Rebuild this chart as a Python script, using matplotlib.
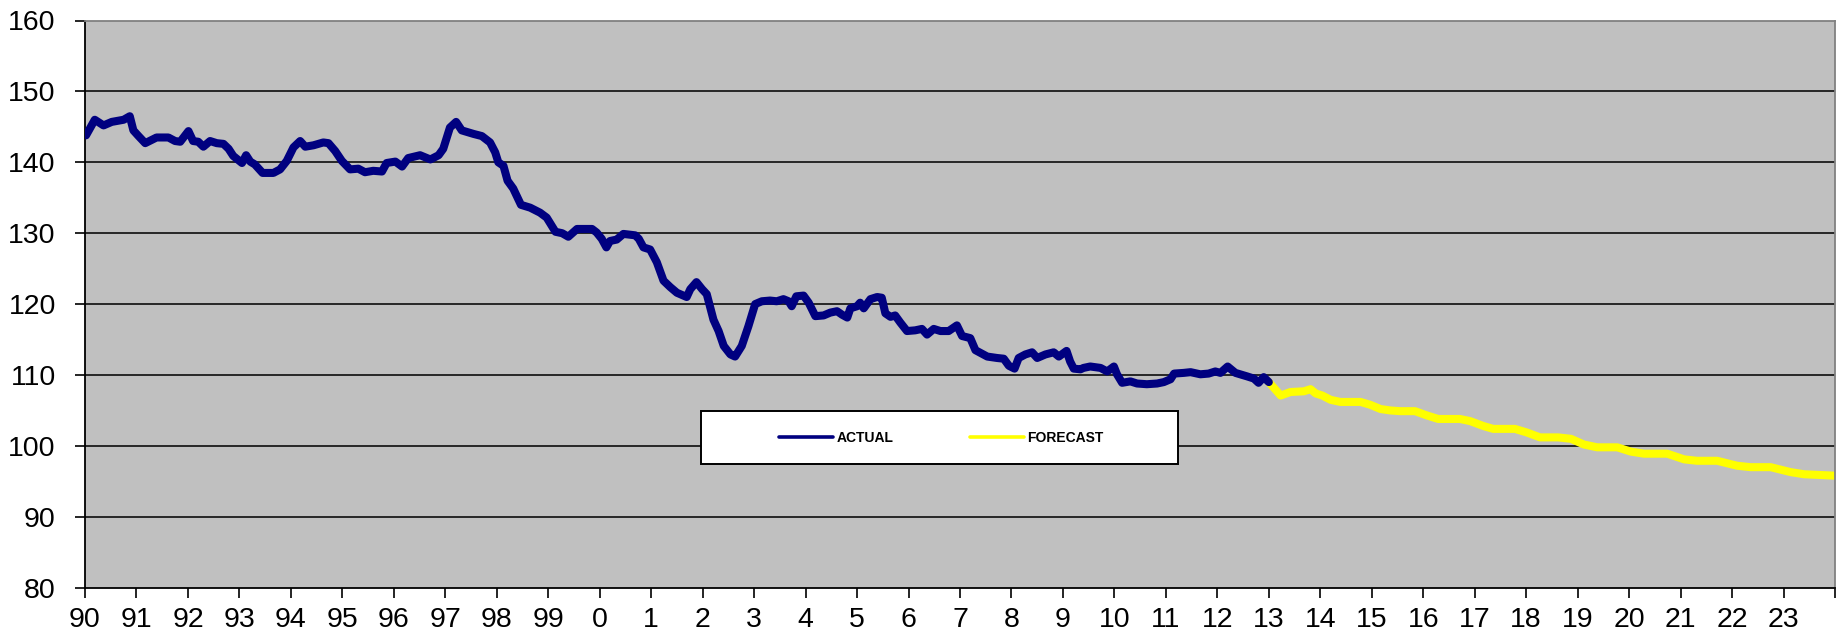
import matplotlib
matplotlib.use("Agg")
import matplotlib.pyplot as plt
from matplotlib.patches import Rectangle

plt.rcParams['font.family'] = ['Liberation Sans', 'DejaVu Sans']

# ---- data ----
actual_x = [1990.02, 1990.19, 1990.36, 1990.52, 1990.75, 1990.87, 1990.94, 1991.04, 1991.17, 1991.39,
            1991.62, 1991.75, 1991.85, 1992.01, 1992.10, 1992.20, 1992.30, 1992.43, 1992.56, 1992.69,
            1992.79, 1992.88, 1993.05, 1993.13, 1993.21, 1993.30, 1993.45, 1993.66, 1993.79, 1993.92,
            1994.05, 1994.18, 1994.28, 1994.44, 1994.63, 1994.73, 1994.86, 1994.99, 1995.15, 1995.31,
            1995.44, 1995.60, 1995.77, 1995.86, 1996.03, 1996.16, 1996.28, 1996.51, 1996.71, 1996.87,
            1996.96, 1997.09, 1997.21, 1997.32, 1997.55, 1997.71, 1997.87, 1997.97, 1998.03, 1998.13,
            1998.21, 1998.32, 1998.47, 1998.65, 1998.84, 1998.97, 1999.14, 1999.27, 1999.39, 1999.56,
            1999.85, 1999.94, 2000.04, 2000.13, 2000.20, 2000.33, 2000.46, 2000.69, 2000.76, 2000.85,
            2000.98, 2001.11, 2001.24, 2001.37, 2001.50, 2001.69, 2001.76, 2001.88, 2001.99, 2002.08,
            2002.21, 2002.31, 2002.41, 2002.54, 2002.63, 2002.76, 2002.89, 2003.02, 2003.15, 2003.31,
            2003.44, 2003.57, 2003.67, 2003.73, 2003.82, 2003.96, 2004.06, 2004.19, 2004.35, 2004.48,
            2004.61, 2004.71, 2004.81, 2004.87, 2005.00, 2005.06, 2005.13, 2005.26, 2005.39, 2005.48,
            2005.55, 2005.65, 2005.74, 2005.84, 2005.97, 2006.13, 2006.26, 2006.36, 2006.49, 2006.62,
            2006.78, 2006.94, 2007.04, 2007.20, 2007.30, 2007.43, 2007.53, 2007.72, 2007.85, 2007.95,
            2008.06, 2008.14, 2008.27, 2008.40, 2008.50, 2008.66, 2008.82, 2008.92, 2009.07, 2009.14,
            2009.21, 2009.34, 2009.40, 2009.53, 2009.73, 2009.86, 2009.99, 2010.05, 2010.15, 2010.31,
            2010.44, 2010.63, 2010.83, 2010.96, 2011.09, 2011.16, 2011.35, 2011.48, 2011.67, 2011.83,
            2011.96, 2012.06, 2012.20, 2012.35, 2012.58, 2012.71, 2012.80, 2012.90, 2013.00]
actual_y = [143.8, 146.0, 145.2, 145.7, 146.0, 146.5, 144.5, 143.7, 142.7, 143.5,
            143.5, 143.0, 142.9, 144.4, 143.0, 142.9, 142.2, 143.0, 142.7, 142.6,
            141.9, 140.9, 139.9, 141.0, 140.1, 139.7, 138.5, 138.5, 139.0, 140.2,
            142.1, 143.0, 142.2, 142.4, 142.8, 142.7, 141.6, 140.2, 139.0, 139.1,
            138.6, 138.8, 138.7, 139.9, 140.1, 139.4, 140.6, 141.0, 140.4, 141.0,
            141.9, 144.9, 145.7, 144.5, 144.0, 143.7, 142.8, 141.4, 140.0, 139.5,
            137.4, 136.3, 134.0, 133.6, 132.9, 132.2, 130.2, 130.0, 129.5, 130.6,
            130.6, 130.1, 129.2, 128.0, 128.9, 129.1, 129.9, 129.7, 129.2, 128.0,
            127.7, 125.9, 123.3, 122.4, 121.6, 121.0, 122.1, 123.1, 122.1, 121.4,
            117.8, 116.2, 114.1, 112.9, 112.6, 114.1, 116.9, 120.0, 120.4, 120.5,
            120.4, 120.7, 120.4, 119.7, 121.1, 121.2, 120.2, 118.3, 118.4, 118.8,
            119.0, 118.5, 118.1, 119.4, 119.7, 120.2, 119.4, 120.7, 121.0, 120.9,
            118.7, 118.2, 118.4, 117.4, 116.2, 116.3, 116.5, 115.7, 116.5, 116.2,
            116.2, 117.0, 115.5, 115.2, 113.5, 113.0, 112.6, 112.4, 112.3, 111.3,
            110.9, 112.4, 112.9, 113.2, 112.4, 112.9, 113.2, 112.6, 113.4, 111.9,
            110.9, 110.8, 111.0, 111.2, 111.0, 110.5, 111.2, 110.1, 108.9, 109.1,
            108.8, 108.7, 108.8, 109.0, 109.4, 110.2, 110.3, 110.4, 110.1, 110.2,
            110.5, 110.3, 111.2, 110.3, 109.8, 109.5, 108.9, 109.7, 109.0]

forecast_x = [2013.00, 2013.23, 2013.42, 2013.68, 2013.81, 2013.91, 2014.04, 2014.20, 2014.39, 2014.78,
              2014.97, 2015.17, 2015.36, 2015.55, 2015.84, 2016.07, 2016.29, 2016.71, 2016.91, 2017.17,
              2017.36, 2017.78, 2018.01, 2018.27, 2018.62, 2018.87, 2019.12, 2019.38, 2019.77, 2020.03,
              2020.29, 2020.74, 2021.07, 2021.32, 2021.71, 2022.10, 2022.36, 2022.75, 2023.14, 2023.40,
              2024.00]
forecast_y = [109.0, 107.1, 107.6, 107.7, 108.0, 107.4, 107.1, 106.5, 106.2, 106.2,
              105.8, 105.2, 105.0, 104.9, 104.9, 104.3, 103.8, 103.8, 103.5, 102.8,
              102.4, 102.4, 101.9, 101.2, 101.2, 101.0, 100.2, 99.8, 99.8, 99.2,
              98.9, 98.9, 98.1, 97.9, 97.9, 97.2, 97.0, 97.0, 96.3, 96.0,
              95.8]

year_ticks = list(range(1990, 2025))
year_labels = [str(y % 100) for y in range(1990, 2024)] + ['']
y_ticks = [80, 90, 100, 110, 120, 130, 140, 150, 160]
grid_levels = [90, 100, 110, 120, 130, 140, 150]
series_names = ['ACTUAL', 'FORECAST']

# ---- figure ----
W, H, DPI = 1841, 642, 100
fig = plt.figure(figsize=(W / DPI, H / DPI), dpi=DPI)
fig.patch.set_facecolor('white')
ax = fig.add_axes([85 / W, 1 - 587.7 / H, (1835 - 85) / W, (587.7 - 20.5) / H])
ax.set_facecolor('#C0C0C0')

for g in grid_levels:
    ax.axhline(g, color='#1a1a1a', lw=1.3, zorder=1)

l1, = ax.plot(actual_x, actual_y, color='#000080', lw=5.8, solid_capstyle='round',
              solid_joinstyle='round', zorder=3, label=series_names[0])
l2, = ax.plot(forecast_x, forecast_y, color='#FFFF00', lw=5.8, solid_capstyle='round',
              solid_joinstyle='round', zorder=2, label=series_names[1])

ax.set_xlim(1990, 2024)
ax.set_ylim(80, 160)
ax.set_xticks(year_ticks)
ax.set_xticklabels(year_labels)
ax.set_yticks(y_ticks)
ax.tick_params(axis='y', length=7, width=1.2, pad=14, labelsize=20.5, color='black')
ax.tick_params(axis='x', length=7, width=1.2, pad=7, labelsize=20.5, color='black')

for s in ['left', 'bottom']:
    ax.spines[s].set_color('black')
    ax.spines[s].set_linewidth(1.3)
for s in ['top', 'right']:
    ax.spines[s].set_color('#808080')
    ax.spines[s].set_linewidth(1.3)

# legend box
rect = Rectangle((701 / W, 1 - 464.3 / H), 477 / W, 53.6 / H, transform=fig.transFigure,
                 facecolor='white', edgecolor='black', lw=1.4, zorder=4)
ax.add_patch(rect)
rect.set_clip_on(False)

leg = ax.legend(handles=[l1, l2], loc='center', ncol=2,
                bbox_to_anchor=(941 / W, 1 - 437.5 / H), bbox_transform=fig.transFigure,
                frameon=False, prop={'size': 10, 'weight': 'bold'},
                handlelength=3.9, handletextpad=0.25, columnspacing=5.5)
leg.set_zorder(5)
for h in leg.legend_handles:
    h.set_linewidth(2.6)

fig.savefig('out.png', dpi=DPI)
